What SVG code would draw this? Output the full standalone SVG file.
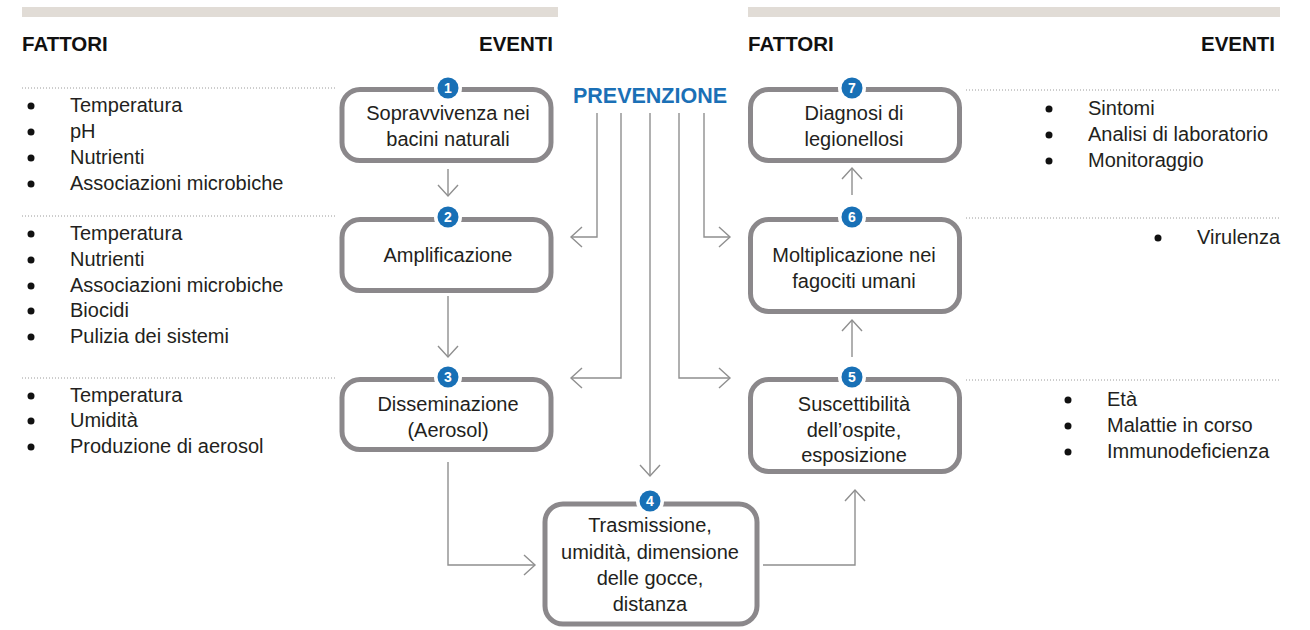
<svg xmlns="http://www.w3.org/2000/svg" width="1310" height="630" viewBox="0 0 1310 630">
<style>
.bar{fill:#e1dcd6}
.hdr{font-family:"Liberation Sans",Arial,sans-serif;font-weight:bold;font-size:20.5px;fill:#111}
.prev{font-family:"Liberation Sans",Arial,sans-serif;font-weight:bold;font-size:21.5px;fill:#1b70b6}
.dot{stroke:#9a9a9a;stroke-width:1;stroke-dasharray:1 2;fill:none}
.txt{font-family:"Liberation Sans",Arial,sans-serif;font-size:20px;fill:#231f20}
.ntxt{font-family:"Liberation Sans",Arial,sans-serif;font-size:20px;fill:#231f20;text-anchor:middle}
.bul{fill:#111}
.box{fill:#fff;stroke:#8b888b;stroke-width:5}
.bw{fill:#fff}
.bb{fill:#1870b6}
.bn{font-family:"Liberation Sans",Arial,sans-serif;font-weight:bold;font-size:14px;fill:#fff;text-anchor:middle}
.con{fill:none;stroke:#8f8f8f;stroke-width:1.4}
</style>
<defs>
<marker id="ah" markerUnits="userSpaceOnUse" markerWidth="14" markerHeight="22" viewBox="0 0 14 22" refX="12" refY="11" orient="auto">
<path d="M1,1 L12,11 L1,21" fill="none" stroke="#8f8f8f" stroke-width="1.4"/>
</marker>
</defs>
<rect width="1310" height="630" fill="#fff"/>
<g id="headers">
<rect class="bar" x="22" y="7" width="536" height="10"/>
<rect class="bar" x="748" y="7" width="532" height="10"/>
<text class="hdr" x="22" y="51">FATTORI</text>
<text class="hdr" x="553" y="51" text-anchor="end">EVENTI</text>
<text class="hdr" x="748" y="51">FATTORI</text>
<text class="hdr" x="1275" y="51" text-anchor="end">EVENTI</text>
<text class="prev" x="650" y="103" text-anchor="middle">PREVENZIONE</text>
</g>
<g id="dividers">
<line class="dot" x1="22" y1="88" x2="336" y2="88"/>
<line class="dot" x1="22" y1="216" x2="336" y2="216"/>
<line class="dot" x1="22" y1="378" x2="336" y2="378"/>
<line class="dot" x1="966" y1="90" x2="1280" y2="90"/>
<line class="dot" x1="966" y1="218" x2="1280" y2="218"/>
<line class="dot" x1="966" y1="380" x2="1280" y2="380"/>
</g>
<g id="list-left-1">
<circle class="bul" cx="31" cy="106" r="3.5"/><text class="txt" x="70" y="112">Temperatura</text>
<circle class="bul" cx="31" cy="132" r="3.5"/><text class="txt" x="70" y="138">pH</text>
<circle class="bul" cx="31" cy="158" r="3.5"/><text class="txt" x="70" y="164">Nutrienti</text>
<circle class="bul" cx="31" cy="184" r="3.5"/><text class="txt" x="70" y="190">Associazioni microbiche</text>
</g>
<g id="list-left-2">
<circle class="bul" cx="31" cy="234" r="3.5"/><text class="txt" x="70" y="240">Temperatura</text>
<circle class="bul" cx="31" cy="260" r="3.5"/><text class="txt" x="70" y="266">Nutrienti</text>
<circle class="bul" cx="31" cy="286" r="3.5"/><text class="txt" x="70" y="292">Associazioni microbiche</text>
<circle class="bul" cx="31" cy="311" r="3.5"/><text class="txt" x="70" y="317">Biocidi</text>
<circle class="bul" cx="31" cy="337" r="3.5"/><text class="txt" x="70" y="343">Pulizia dei sistemi</text>
</g>
<g id="list-left-3">
<circle class="bul" cx="31" cy="396" r="3.5"/><text class="txt" x="70" y="402">Temperatura</text>
<circle class="bul" cx="31" cy="421" r="3.5"/><text class="txt" x="70" y="427">Umidità</text>
<circle class="bul" cx="31" cy="447" r="3.5"/><text class="txt" x="70" y="453">Produzione di aerosol</text>
</g>
<g id="list-right-7">
<circle class="bul" cx="1049" cy="109" r="3.5"/><text class="txt" x="1088" y="115">Sintomi</text>
<circle class="bul" cx="1049" cy="135" r="3.5"/><text class="txt" x="1088" y="141">Analisi di laboratorio</text>
<circle class="bul" cx="1049" cy="161" r="3.5"/><text class="txt" x="1088" y="167">Monitoraggio</text>
</g>
<g id="list-right-6">
<circle class="bul" cx="1158" cy="238" r="3.5"/><text class="txt" x="1197" y="244">Virulenza</text>
</g>
<g id="list-right-5">
<circle class="bul" cx="1068" cy="400" r="3.5"/><text class="txt" x="1107" y="406">Età</text>
<circle class="bul" cx="1068" cy="426" r="3.5"/><text class="txt" x="1107" y="432">Malattie in corso</text>
<circle class="bul" cx="1068" cy="452" r="3.5"/><text class="txt" x="1107" y="458">Immunodeficienza</text>
</g>
<g id="connectors">
<path class="con" marker-end="url(#ah)" d="M448,169 V196"/>
<path class="con" marker-end="url(#ah)" d="M448,296 V357"/>
<path class="con" marker-end="url(#ah)" d="M448,462 V565 H535"/>
<path class="con" marker-end="url(#ah)" d="M763,565 H855 V490"/>
<path class="con" marker-end="url(#ah)" d="M852,357 V320"/>
<path class="con" marker-end="url(#ah)" d="M852,195 V168"/>
<path class="con" marker-end="url(#ah)" d="M597,113 V237 H571"/>
<path class="con" marker-end="url(#ah)" d="M621,113 V378 H571"/>
<path class="con" marker-end="url(#ah)" d="M650,113 V476"/>
<path class="con" marker-end="url(#ah)" d="M679,113 V378 H730"/>
<path class="con" marker-end="url(#ah)" d="M704,113 V237 H730"/>
</g>
<g id="node1">
<rect class="box" x="342" y="89.5" width="209" height="71" rx="18"/>
<circle class="bw" cx="448" cy="88" r="14"/><circle class="bb" cx="448" cy="88" r="10.5"/>
<text class="bn" x="448" y="93">1</text>
<text class="ntxt" x="448" y="120">Sopravvivenza nei</text>
<text class="ntxt" x="448" y="146">bacini naturali</text>
</g>
<g id="node2">
<rect class="box" x="342" y="219.5" width="209" height="71" rx="18"/>
<circle class="bw" cx="448" cy="217" r="14"/><circle class="bb" cx="448" cy="217" r="10.5"/>
<text class="bn" x="448" y="222">2</text>
<text class="ntxt" x="448" y="262">Amplificazione</text>
</g>
<g id="node3">
<rect class="box" x="342" y="379.5" width="209" height="70" rx="18"/>
<circle class="bw" cx="448" cy="377" r="14"/><circle class="bb" cx="448" cy="377" r="10.5"/>
<text class="bn" x="448" y="382">3</text>
<text class="ntxt" x="448" y="411">Disseminazione</text>
<text class="ntxt" x="448" y="437">(Aerosol)</text>
</g>
<g id="node4">
<rect class="box" x="545" y="504" width="212" height="120" rx="18"/>
<circle class="bw" cx="650" cy="501" r="14"/><circle class="bb" cx="650" cy="501" r="10.5"/>
<text class="bn" x="650" y="506">4</text>
<text class="ntxt" x="650" y="532">Trasmissione,</text>
<text class="ntxt" x="650" y="559">umidità, dimensione</text>
<text class="ntxt" x="650" y="585">delle gocce,</text>
<text class="ntxt" x="650" y="611">distanza</text>
</g>
<g id="node5">
<rect class="box" x="750.5" y="379.5" width="209" height="92" rx="18"/>
<circle class="bw" cx="852" cy="377" r="14"/><circle class="bb" cx="852" cy="377" r="10.5"/>
<text class="bn" x="852" y="382">5</text>
<text class="ntxt" x="854" y="411">Suscettibilità</text>
<text class="ntxt" x="854" y="437">dell’ospite,</text>
<text class="ntxt" x="854" y="462">esposizione</text>
</g>
<g id="node6">
<rect class="box" x="750.5" y="219.5" width="209" height="92" rx="18"/>
<circle class="bw" cx="852" cy="217" r="14"/><circle class="bb" cx="852" cy="217" r="10.5"/>
<text class="bn" x="852" y="222">6</text>
<text class="ntxt" x="854" y="262">Moltiplicazione nei</text>
<text class="ntxt" x="854" y="288">fagociti umani</text>
</g>
<g id="node7">
<rect class="box" x="750.5" y="89.5" width="209" height="71" rx="18"/>
<circle class="bw" cx="852" cy="88" r="14"/><circle class="bb" cx="852" cy="88" r="10.5"/>
<text class="bn" x="852" y="93">7</text>
<text class="ntxt" x="854" y="120">Diagnosi di</text>
<text class="ntxt" x="854" y="146">legionellosi</text>
</g>
</svg>
